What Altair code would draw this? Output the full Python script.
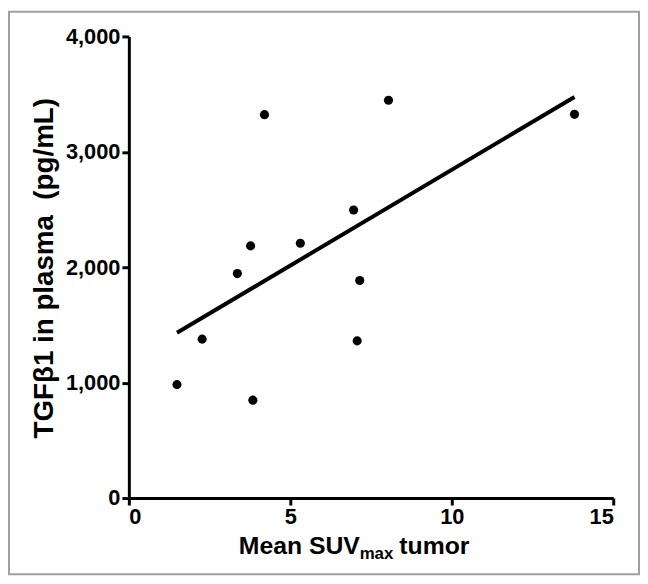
import altair as alt
import pandas as pd

# Data
suv = [1.49, 2.27, 3.36, 3.77, 3.84, 4.20, 5.31, 6.96, 7.07, 7.15, 8.04, 13.8]
tgf = [983, 1377, 1945, 2185, 848, 3322, 2208, 2496, 1362, 1885, 3447, 3325]
x_ticks = [0, 5, 10, 15]
y_ticks = [0, 1000, 2000, 3000, 4000]

df = pd.DataFrame({"suv": suv, "tgf": tgf})

W, H = 489, 466
FONT = "Liberation Sans"

x_enc = alt.X("suv:Q", scale=alt.Scale(domain=[0, 15], nice=False),
              axis=alt.Axis(values=x_ticks, title=None, grid=False))
y_enc = alt.Y("tgf:Q", scale=alt.Scale(domain=[0, 4000], nice=False),
              axis=alt.Axis(values=y_ticks, format=",.0f", title=None, grid=False))

base = alt.Chart(df)
points = base.mark_circle(size=85, color="black", opacity=1).encode(x=x_enc, y=y_enc)
line = base.transform_regression("suv", "tgf").mark_line(
    color="black", strokeWidth=4).encode(x=x_enc, y=y_enc)

one = pd.DataFrame({"t": ["x"]})

xt1 = alt.Chart(one).mark_text(font=FONT, fontWeight="bold", fontSize=25, align="left",
                               baseline="alphabetic", color="black").encode(
    x=alt.value(111), y=alt.value(522), text=alt.value("Mean SUV"))
xt2 = alt.Chart(one).mark_text(font=FONT, fontWeight="bold", fontSize=17, align="left",
                               baseline="alphabetic", color="black").encode(
    x=alt.value(233), y=alt.value(528), text=alt.value("max"))
xt3 = alt.Chart(one).mark_text(font=FONT, fontWeight="bold", fontSize=25, align="left",
                               baseline="alphabetic", color="black").encode(
    x=alt.value(273), y=alt.value(522), text=alt.value("tumor"))
yt = alt.Chart(one).mark_text(font=FONT, fontWeight="bold", fontSize=28, align="center",
                              baseline="middle", angle=270, color="black").encode(
    x=alt.value(-85), y=alt.value(234), text=alt.value("TGF\u03b21 in plasma \u00a0(pg/mL)"))

frame = alt.Chart(one).mark_rect(fillOpacity=0, stroke="#a0a0a0", strokeWidth=2).encode(
    x=alt.value(-121), x2=alt.value(515), y=alt.value(-25), y2=alt.value(543))

chart = alt.layer(frame, line, points, xt1, xt2, xt3, yt).properties(
    width=W, height=H, padding=0, background="white"
).configure_view(stroke=None).configure_axis(
    domainColor="black", domainWidth=3, tickColor="black", tickWidth=3, tickSize=7,
    labelFont=FONT, labelFontWeight="bold", labelFontSize=22, labelColor="black",
    labelPadding=2
)

chart.save("out.html", embed_options={"renderer": "svg", "actions": False})
